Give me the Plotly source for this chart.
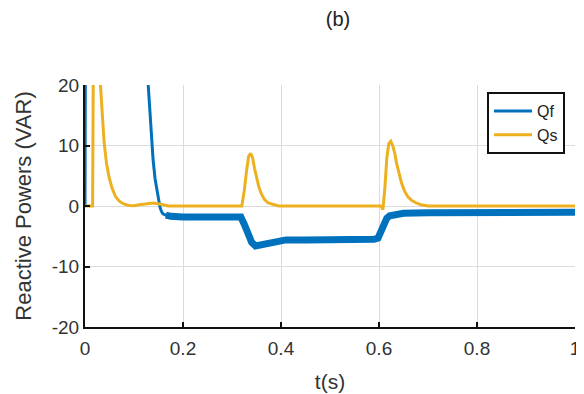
import plotly.graph_objects as go

# ---- data ----
qf_t = [0, 0.0015, 0.05, 0.10, 0.129, 0.134, 0.139, 0.143, 0.147, 0.150, 0.153, 0.156, 0.159,
        0.165, 0.175, 0.20, 0.25, 0.30, 0.318, 0.325, 0.332, 0.340, 0.348, 0.356, 0.37, 0.39,
        0.41, 0.45, 0.50, 0.55, 0.59, 0.598, 0.604, 0.610, 0.616, 0.622, 0.635, 0.65, 0.70,
        0.80, 0.90, 1.0]
qf_v = [0, 50, 60, 40, 20, 13, 7.6, 4.5, 2.6, 1.0, -0.2, -0.9, -1.3,
        -1.5, -1.7, -1.8, -1.7, -1.7, -1.8, -3.0, -4.6, -6.0, -6.6, -6.5, -6.1, -5.8,
        -5.6, -5.6, -5.6, -5.5, -5.5, -5.3, -4.2, -2.9, -2.0, -1.6, -1.3, -1.2, -1.1,
        -1.05, -1.05, -1.05]

qs_t = [0, 0.0155, 0.017, 0.021, 0.026, 0.031, 0.035, 0.039, 0.044, 0.049, 0.055, 0.062, 0.070,
        0.08, 0.09, 0.10, 0.11, 0.125, 0.14, 0.155, 0.17, 0.32, 0.325, 0.330, 0.334, 0.338,
        0.342, 0.346, 0.350, 0.355, 0.360, 0.366, 0.374, 0.384, 0.395, 0.604, 0.608, 0.612,
        0.616, 0.620, 0.624, 0.628, 0.632, 0.636, 0.641, 0.646, 0.652, 0.659, 0.667, 0.676,
        0.686, 0.70, 1.0]
qs_v = [0, 0, 24, 30, 27, 20, 14.5, 10.5, 7.0, 4.8, 3.0, 1.6, 0.8,
        0.3, 0.1, 0.05, 0.2, 0.4, 0.5, 0.3, 0, 0, 2.5, 6.0, 8.2, 8.7,
        8.0, 6.2, 4.6, 3.1, 2.0, 1.1, 0.5, 0.2, 0, 0, -0.6, 3.0,
        8.0, 10.3, 10.7, 10.0, 8.8, 7.0, 5.3, 3.8, 2.5, 1.5, 0.9, 0.5,
        0.2, 0, 0]

x_ticks = [0, 0.2, 0.4, 0.6, 0.8, 1]
x_labels = ["0", "0.2", "0.4", "0.6", "0.8", "1"]
y_ticks = [-20, -10, 0, 10, 20]
y_labels = ["-20", "-10", "0", "10", "20"]

BLUE = "#0072BD"
YELLOW = "#EDB120"
FONT = "Liberation Sans, Arial, sans-serif"
TXT = "#333333"

# page body has an 8px margin, so the figure is drawn 8px in and 8px down
OFF = 8
W, H = 584 - OFF, 394 - OFF

# noisy steady-state part of Qf drawn as a thicker band
band_t = [t for t in qf_t if t >= 0.162]
band_v = [v for t, v in zip(qf_t, qf_v) if t >= 0.162]

fig = go.Figure()
fig.add_trace(go.Scatter(x=qf_t, y=qf_v, mode="lines", name="Qf",
                         line=dict(color=BLUE, width=3)))
fig.add_trace(go.Scatter(x=band_t, y=band_v, mode="lines", name="Qf",
                         showlegend=False, line=dict(color=BLUE, width=7)))
fig.add_trace(go.Scatter(x=qs_t, y=qs_v, mode="lines", name="Qs",
                         line=dict(color=YELLOW, width=3)))

fig.update_layout(
    width=W, height=H,
    margin=dict(l=85 - OFF, r=584 - 575, t=85 - OFF, b=394 - 327, autoexpand=False),
    paper_bgcolor="white", plot_bgcolor="white",
    font=dict(family=FONT, color=TXT),
    title=dict(text="(b)", x=(338 - OFF) / W, xanchor="center", y=1 - (18.5 - OFF) / H,
               yanchor="middle", font=dict(size=20, color="#222222")),
    showlegend=True,
    legend=dict(x=(487 - 85) / 490, y=1 - 7 / 242, xanchor="left", yanchor="top",
                bgcolor="white", bordercolor="#111111", borderwidth=2,
                font=dict(size=16, color="#222222"), itemwidth=38),
)
fig.update_xaxes(range=[0, 1], tickvals=x_ticks, ticktext=x_labels, automargin=False,
                 showgrid=True, gridcolor="#dcdcdc", gridwidth=1, zeroline=False,
                 showline=True, linecolor="#111111", linewidth=2,
                 ticks="inside", ticklen=5, tickwidth=2, tickcolor="#111111",
                 tickfont=dict(size=19, color=TXT), ticklabelstandoff=3,
                 title=dict(text="t(s)", font=dict(size=21, color=TXT), standoff=17))
fig.update_yaxes(range=[-20, 20], tickvals=y_ticks, ticktext=y_labels, automargin=False,
                 showgrid=True, gridcolor="#dcdcdc", gridwidth=1, zeroline=False,
                 showline=True, linecolor="#111111", linewidth=2,
                 ticks="inside", ticklen=5, tickwidth=2, tickcolor="#111111",
                 tickfont=dict(size=19, color=TXT),
                 title=dict(text="Reactive Powers (VAR)", font=dict(size=22, color=TXT), standoff=14))

fig.write_html("out.html")
